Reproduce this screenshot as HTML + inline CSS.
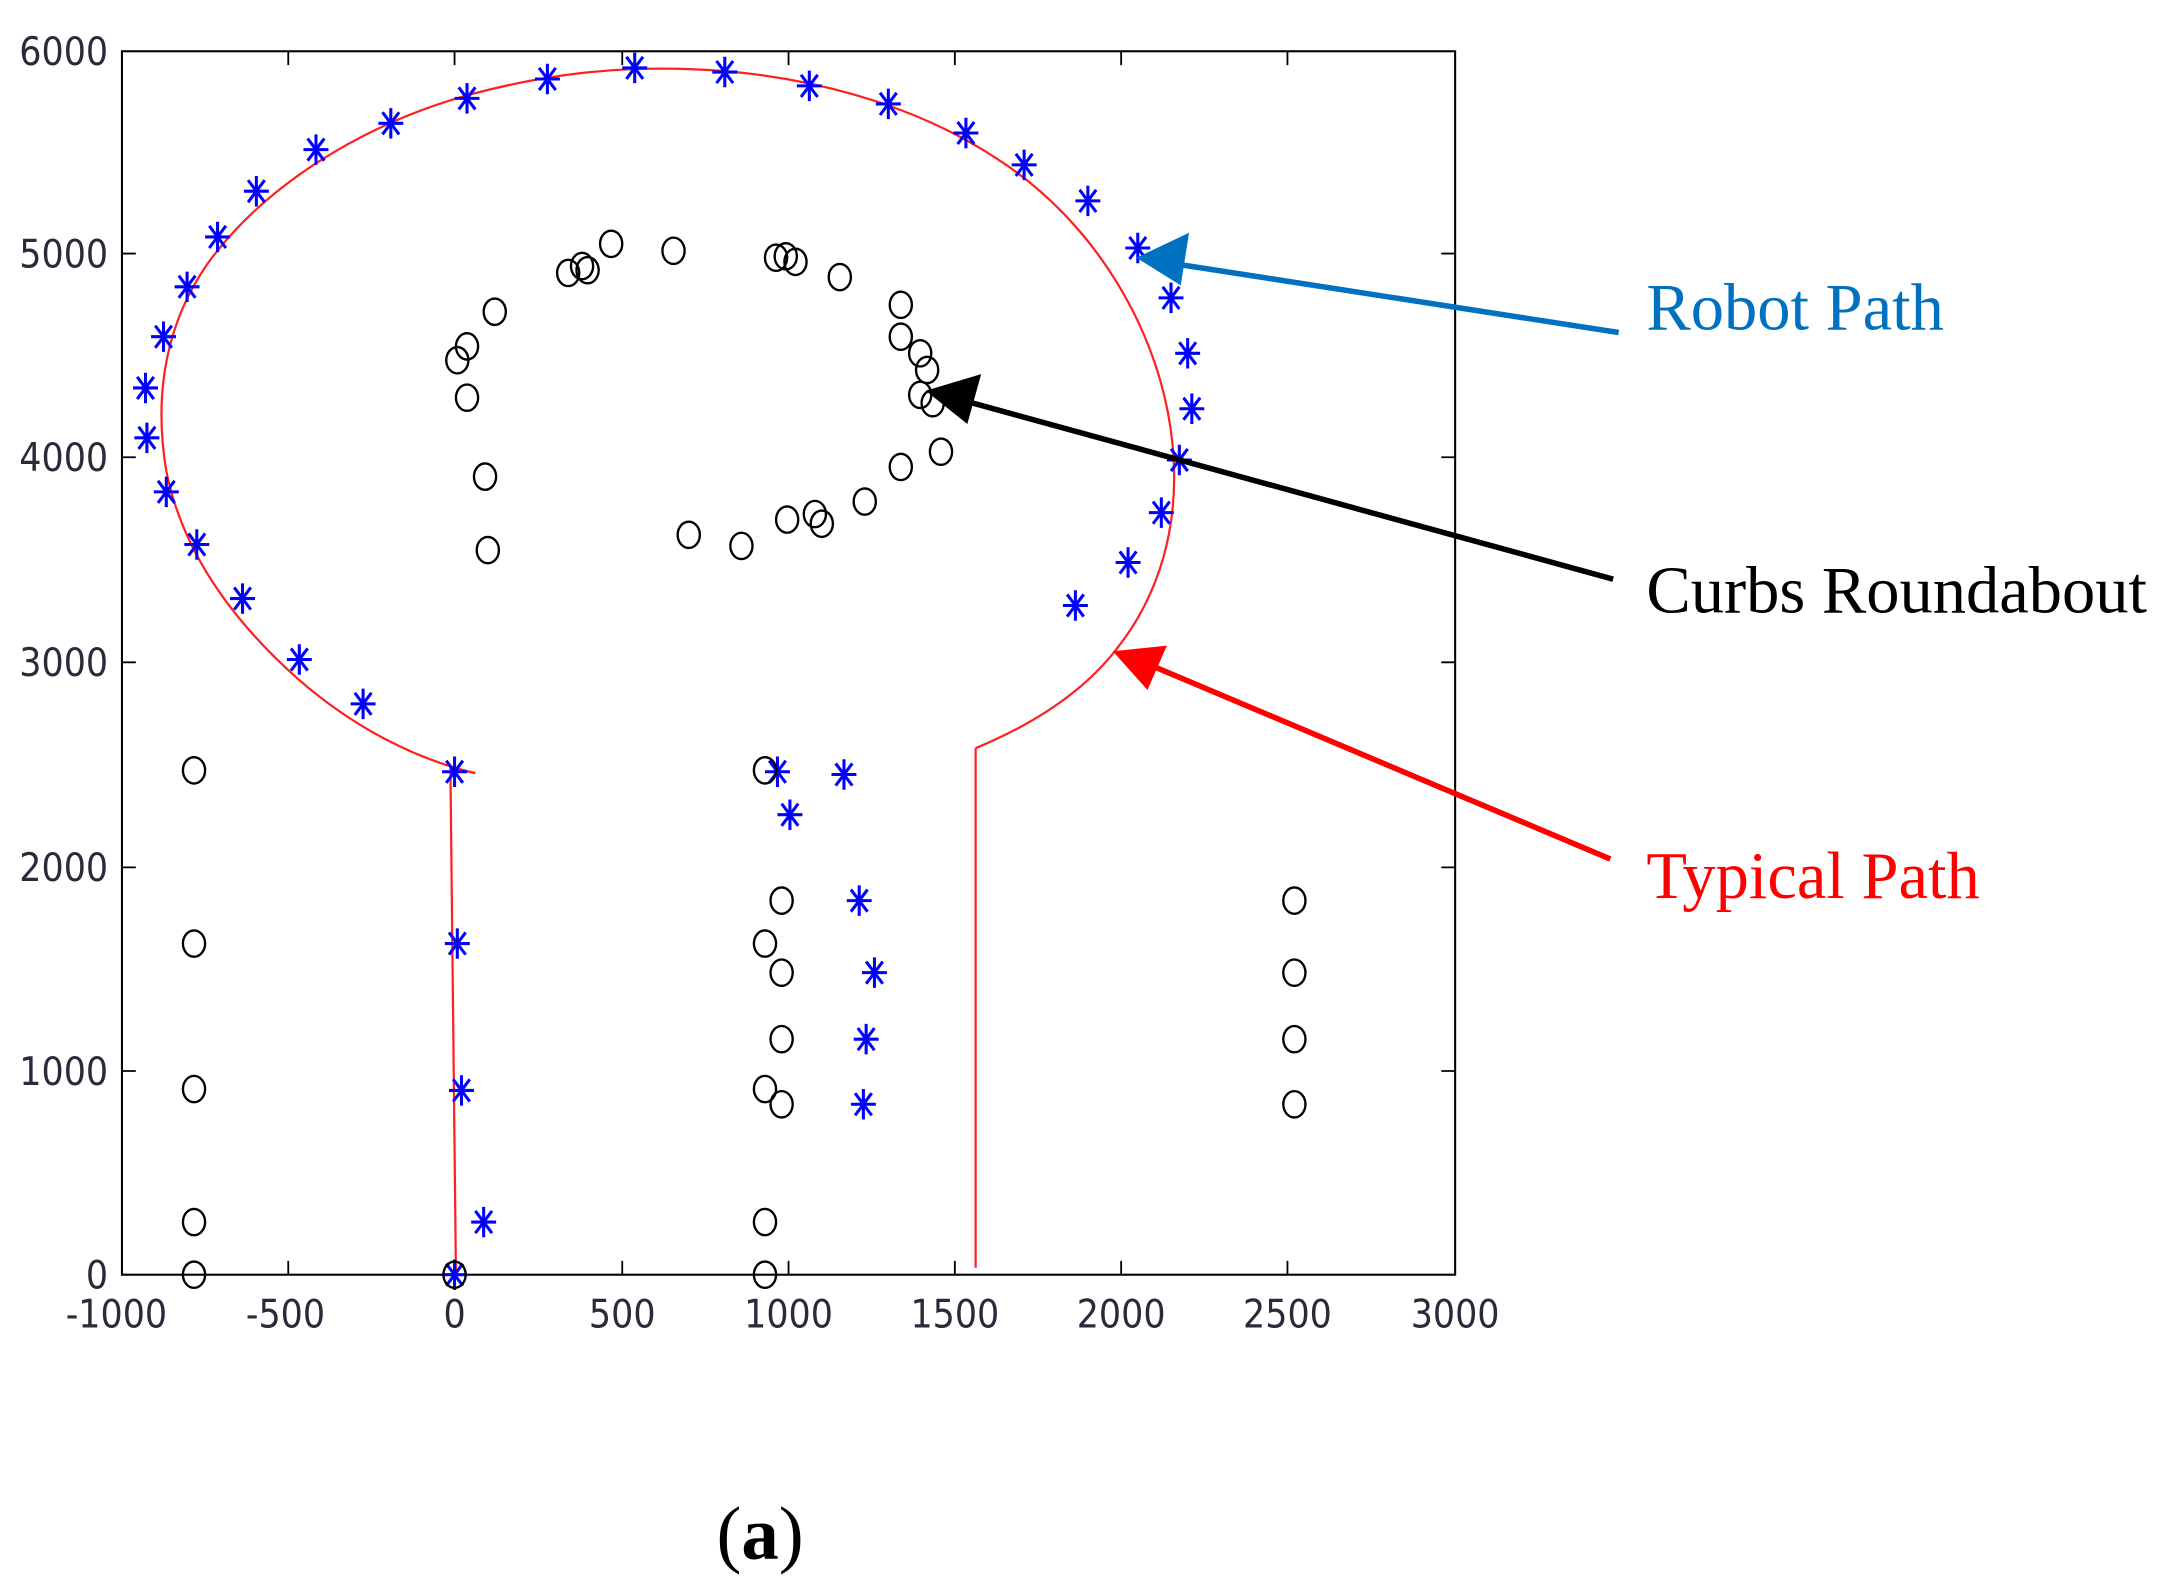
<!DOCTYPE html>
<html><head><meta charset="utf-8"><style>
html,body{margin:0;padding:0;background:#fff;}
svg{display:block;}
</style></head><body>
<svg width="2173" height="1592" viewBox="0 0 1568 1149" preserveAspectRatio="none" xmlns="http://www.w3.org/2000/svg">
<defs>
<symbol id="st" overflow="visible"><path d="M-9,0H9M0,-11V11M-6,-8L6,8M-6,8L6,-8" stroke="#0000ff" stroke-width="2.2"/></symbol>
<symbol id="ci" overflow="visible"><ellipse cx="0" cy="0" rx="8" ry="9.5" fill="none" stroke="#000" stroke-width="1.7"/></symbol>
</defs>
<rect x="88" y="37" width="962" height="883" fill="none" stroke="#000" stroke-width="1.5"/>
<g stroke="#000" stroke-width="1.3">
<path d="M88,183h10M88,330h10M88,478h10M88,626h10M88,773h10M1050,183h-10M1050,330h-10M1050,478h-10M1050,626h-10M1050,773h-10"/>
<path d="M208,920v-10M328,920v-10M449,920v-10M569,920v-10M689,920v-10M809,920v-10M929,920v-10M208,37v10M328,37v10M449,37v10M569,37v10M689,37v10M809,37v10M929,37v10"/>
</g>
<g font-family="DejaVu Sans Condensed, DejaVu Sans, sans-serif" font-size="28" fill="#2a2a3a">
<g text-anchor="end">
<text x="78" y="47">6000</text><text x="78" y="193">5000</text><text x="78" y="340">4000</text><text x="78" y="488">3000</text><text x="78" y="636">2000</text><text x="78" y="783">1000</text><text x="78" y="930">0</text>
</g>
<g text-anchor="middle">
<text x="84" y="958">-1000</text><text x="206" y="958">-500</text><text x="328" y="958">0</text><text x="449" y="958">500</text><text x="569" y="958">1000</text><text x="689" y="958">1500</text><text x="809" y="958">2000</text><text x="929" y="958">2500</text><text x="1050" y="958">3000</text>
</g>
</g>
<g fill="none" stroke="#ff2020" stroke-width="1.6">
<path d="M343,558 L325,554 L329,920"/>
<path d="M704,915 L704,540"/>
<path d="M343,558 C300,548 255,525 215,490 C170,450 132,400 120,340 C110,280 122,230 150,190 C190,135 260,90 340,68 C400,52 450,48 500,50 C580,53 660,75 720,115 C790,160 838,240 846,320 C852,380 836,430 806,468 C780,502 740,525 704,540"/>
</g>
<g>
<use href="#st" x="105" y="280"/><use href="#st" x="106" y="316"/><use href="#st" x="118" y="243"/><use href="#st" x="120" y="355"/><use href="#st" x="135" y="207"/><use href="#st" x="142" y="393"/><use href="#st" x="157" y="171"/><use href="#st" x="175" y="432"/><use href="#st" x="185" y="138"/><use href="#st" x="216" y="476"/><use href="#st" x="228" y="108"/><use href="#st" x="262" y="508"/><use href="#st" x="282" y="89"/><use href="#st" x="337" y="71"/><use href="#st" x="395" y="57"/><use href="#st" x="458" y="49"/><use href="#st" x="523" y="52"/><use href="#st" x="584" y="62"/><use href="#st" x="641" y="75"/><use href="#st" x="697" y="96"/><use href="#st" x="739" y="119"/><use href="#st" x="785" y="145"/><use href="#st" x="821" y="179"/><use href="#st" x="845" y="215"/><use href="#st" x="857" y="255"/><use href="#st" x="860" y="295"/><use href="#st" x="851" y="332"/><use href="#st" x="838" y="370"/><use href="#st" x="814" y="406"/><use href="#st" x="776" y="437"/><use href="#st" x="328" y="557"/><use href="#st" x="561" y="557"/><use href="#st" x="609" y="559"/><use href="#st" x="570" y="588"/><use href="#st" x="620" y="650"/><use href="#st" x="631" y="702"/><use href="#st" x="330" y="681"/><use href="#st" x="625" y="750"/><use href="#st" x="333" y="787"/><use href="#st" x="623" y="797"/><use href="#st" x="349" y="882"/><use href="#st" x="328" y="920"/>
</g>
<g>
<use href="#ci" x="140" y="556"/><use href="#ci" x="140" y="681"/><use href="#ci" x="140" y="786"/><use href="#ci" x="140" y="882"/><use href="#ci" x="140" y="920"/><use href="#ci" x="328" y="920"/><use href="#ci" x="552" y="920"/><use href="#ci" x="552" y="882"/><use href="#ci" x="552" y="786"/><use href="#ci" x="564" y="797"/><use href="#ci" x="564" y="750"/><use href="#ci" x="564" y="702"/><use href="#ci" x="552" y="681"/><use href="#ci" x="564" y="650"/><use href="#ci" x="552" y="556"/><use href="#ci" x="934" y="650"/><use href="#ci" x="934" y="702"/><use href="#ci" x="934" y="750"/><use href="#ci" x="934" y="797"/><use href="#ci" x="352" y="397"/><use href="#ci" x="350" y="344"/><use href="#ci" x="337" y="287"/><use href="#ci" x="330" y="260"/><use href="#ci" x="337" y="250"/><use href="#ci" x="357" y="225"/><use href="#ci" x="410" y="197"/><use href="#ci" x="420" y="192"/><use href="#ci" x="424" y="195"/><use href="#ci" x="441" y="176"/><use href="#ci" x="486" y="181"/><use href="#ci" x="560" y="186"/><use href="#ci" x="567" y="185"/><use href="#ci" x="574" y="189"/><use href="#ci" x="606" y="200"/><use href="#ci" x="650" y="220"/><use href="#ci" x="650" y="243"/><use href="#ci" x="664" y="255"/><use href="#ci" x="669" y="267"/><use href="#ci" x="664" y="285"/><use href="#ci" x="673" y="291"/><use href="#ci" x="679" y="326"/><use href="#ci" x="650" y="337"/><use href="#ci" x="624" y="362"/><use href="#ci" x="588" y="371"/><use href="#ci" x="593" y="378"/><use href="#ci" x="568" y="375"/><use href="#ci" x="535" y="394"/><use href="#ci" x="497" y="386"/>
</g>
<g stroke-width="4">
<line x1="1168" y1="240" x2="845" y2="190" stroke="#0070c0"/>
<polygon points="820,186 858,168 852,206" fill="#0070c0"/>
<line x1="1164" y1="418" x2="695" y2="289" stroke="#000"/>
<polygon points="668,282 708,270 698,306" fill="#000"/>
<line x1="1162" y1="620" x2="830" y2="480" stroke="#ff0000"/>
<polygon points="803,470 842,466 828,498" fill="#ff0000"/>
</g>
<g font-family="Liberation Serif, serif" font-size="48">
<text x="1188" y="238" fill="#0070c0">Robot Path</text>
<text x="1188" y="442" fill="#000">Curbs Roundabout</text>
<text x="1188" y="648" fill="#ff0000">Typical Path</text>
<text x="517" y="1125" fill="#000" font-size="54">(<tspan font-weight="bold">a</tspan>)</text>
</g>
</svg>
</body></html>
